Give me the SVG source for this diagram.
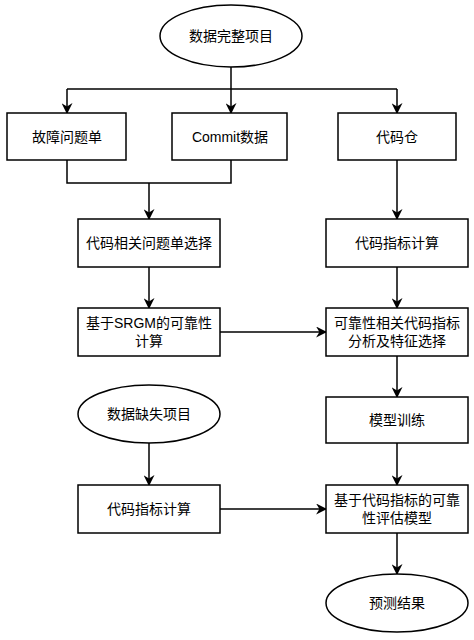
<svg xmlns="http://www.w3.org/2000/svg" width="474" height="640" viewBox="0 0 474 640">
<style>
.n{fill:#fff;stroke:#000;stroke-width:1.5}
.t{font-family:"Liberation Sans","Noto Sans CJK SC",sans-serif;font-size:14px;fill:#000;text-anchor:middle;dominant-baseline:central}
.c{fill:none;stroke:#000;stroke-width:1.5}
</style>
<defs>
<marker id="a" viewBox="0 0 10 10" refX="9" refY="5" markerWidth="11" markerHeight="11" markerUnits="userSpaceOnUse" orient="auto">
<path d="M0,0 L10,5 L0,10 L3,5 Z" fill="#000"/>
</marker>
</defs>
<rect width="474" height="640" fill="#fff"/>
<g id="connectors">
<path class="c" d="M231,67 V89"/>
<path class="c" d="M67,89 H397"/>
<path class="c" d="M67,89 V113" marker-end="url(#a)"/>
<path class="c" d="M231,89 V113" marker-end="url(#a)"/>
<path class="c" d="M397,89 V113" marker-end="url(#a)"/>
<path class="c" d="M67,160 V183 H231 V160"/>
<path class="c" d="M149,183 V219" marker-end="url(#a)"/>
<path class="c" d="M397,160 V219" marker-end="url(#a)"/>
<path class="c" d="M149,267 V308" marker-end="url(#a)"/>
<path class="c" d="M397,267 V308" marker-end="url(#a)"/>
<path class="c" d="M220,332 H326" marker-end="url(#a)"/>
<path class="c" d="M397,356 V397" marker-end="url(#a)"/>
<path class="c" d="M149,443 V485" marker-end="url(#a)"/>
<path class="c" d="M397,443 V485" marker-end="url(#a)"/>
<path class="c" d="M220,509 H326" marker-end="url(#a)"/>
<path class="c" d="M397,533 V574" marker-end="url(#a)"/>
</g>
<g id="n1"><ellipse class="n" cx="231" cy="36" rx="71" ry="31"/><text class="t" x="231" y="36">数据完整项目</text></g>
<g id="n2"><rect class="n" x="7" y="113" width="119" height="47"/><text class="t" x="67" y="137">故障问题单</text></g>
<g id="n3"><rect class="n" x="172" y="113" width="115" height="47"/><text class="t" x="230" y="137">Commit数据</text></g>
<g id="n4"><rect class="n" x="338" y="113" width="118" height="47"/><text class="t" x="397" y="137">代码仓</text></g>
<g id="n5"><rect class="n" x="78" y="219" width="142" height="48"/><text class="t" x="149" y="243">代码相关问题单选择</text></g>
<g id="n6"><rect class="n" x="326" y="219" width="142" height="48"/><text class="t" x="397" y="243">代码指标计算</text></g>
<g id="n7"><rect class="n" x="78" y="308" width="142" height="48"/><text class="t" x="149" y="323">基于SRGM的可靠性</text><text class="t" x="149" y="341">计算</text></g>
<g id="n8"><rect class="n" x="326" y="308" width="142" height="48"/><text class="t" x="397" y="323">可靠性相关代码指标</text><text class="t" x="397" y="341">分析及特征选择</text></g>
<g id="n9"><rect class="n" x="326" y="397" width="142" height="46"/><text class="t" x="397" y="420">模型训练</text></g>
<g id="n10"><ellipse class="n" cx="149" cy="414" rx="71" ry="29"/><text class="t" x="149" y="414">数据缺失项目</text></g>
<g id="n11"><rect class="n" x="78" y="485" width="142" height="48"/><text class="t" x="149" y="509">代码指标计算</text></g>
<g id="n12"><rect class="n" x="326" y="485" width="142" height="48"/><text class="t" x="397" y="500">基于代码指标的可靠</text><text class="t" x="397" y="518">性评估模型</text></g>
<g id="n13"><ellipse class="n" cx="397" cy="603" rx="71" ry="29"/><text class="t" x="397" y="603">预测结果</text></g>
</svg>
